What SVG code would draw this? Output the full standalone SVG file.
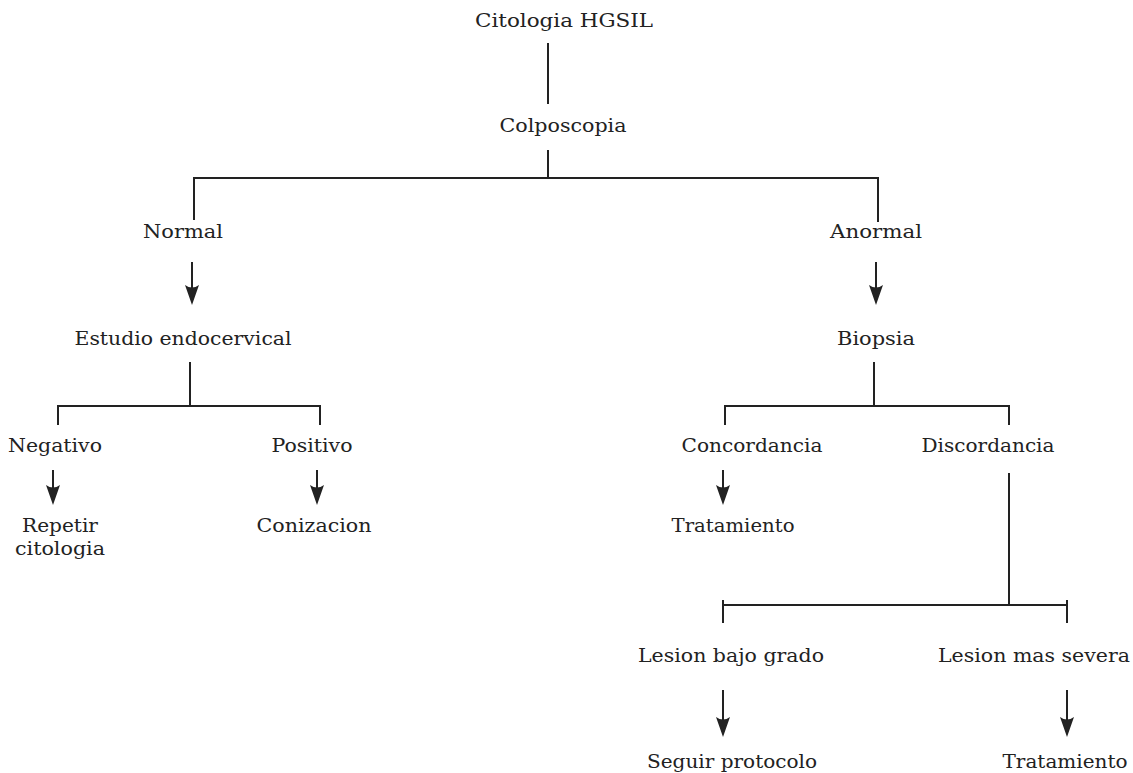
<svg xmlns="http://www.w3.org/2000/svg" width="1133" height="773" viewBox="0 0 1133 773">
<style>
  .t { font-family: "DejaVu Serif", "Liberation Serif", serif; font-size: 19px; fill: #222; text-anchor: middle; }
  .c line { stroke: #222; stroke-width: 2; fill: none; }
  .c .a { marker-end: url(#arr); }
</style>
<defs>
  <marker id="arr" viewBox="-10 -8 21 16" refX="0" refY="0" markerWidth="21" markerHeight="16" markerUnits="userSpaceOnUse" orient="auto">
    <path d="M10,0 L-10,-7 Q-5,0 -10,7 Z" fill="#222"/>
  </marker>
</defs>
<rect width="1133" height="773" fill="#fff"/>
<g class="c" id="connectors">
  <line x1="548" y1="43" x2="548" y2="104"/>
  <line x1="548" y1="150" x2="548" y2="178"/>
  <line x1="193" y1="178" x2="879" y2="178"/>
  <line x1="194" y1="178" x2="194" y2="220"/>
  <line x1="878" y1="178" x2="878" y2="222"/>
  <line class="a" x1="192" y1="262" x2="192" y2="295"/>
  <line class="a" x1="876" y1="262" x2="876" y2="295"/>
  <line x1="190" y1="362" x2="190" y2="406"/>
  <line x1="57" y1="406" x2="321" y2="406"/>
  <line x1="58" y1="406" x2="58" y2="425"/>
  <line x1="320" y1="406" x2="320" y2="425"/>
  <line x1="874" y1="362" x2="874" y2="406"/>
  <line x1="724" y1="406" x2="1010" y2="406"/>
  <line x1="725" y1="406" x2="725" y2="425"/>
  <line x1="1009" y1="406" x2="1009" y2="425"/>
  <line class="a" x1="53" y1="470" x2="53" y2="495"/>
  <line class="a" x1="317" y1="470" x2="317" y2="495"/>
  <line class="a" x1="723" y1="470" x2="723" y2="495"/>
  <line x1="1009" y1="473" x2="1009" y2="605"/>
  <line x1="723" y1="605" x2="1067" y2="605"/>
  <line x1="723" y1="600" x2="723" y2="623"/>
  <line x1="1067" y1="600" x2="1067" y2="623"/>
  <line class="a" x1="723" y1="690" x2="723" y2="727"/>
  <line class="a" x1="1067" y1="690" x2="1067" y2="727"/>
</g>
<g id="n-citologia"><text class="t" x="564" y="27" textLength="178" lengthAdjust="spacingAndGlyphs">Citologia HGSIL</text></g>
<g id="n-colposcopia"><text class="t" x="563" y="132" textLength="127" lengthAdjust="spacingAndGlyphs">Colposcopia</text></g>
<g id="n-normal"><text class="t" x="183" y="238" textLength="80" lengthAdjust="spacingAndGlyphs">Normal</text></g>
<g id="n-anormal"><text class="t" x="876" y="238" textLength="92" lengthAdjust="spacingAndGlyphs">Anormal</text></g>
<g id="n-estudio"><text class="t" x="183" y="345" textLength="217" lengthAdjust="spacingAndGlyphs">Estudio endocervical</text></g>
<g id="n-biopsia"><text class="t" x="876" y="345" textLength="78" lengthAdjust="spacingAndGlyphs">Biopsia</text></g>
<g id="n-negativo"><text class="t" x="55" y="452" textLength="94" lengthAdjust="spacingAndGlyphs">Negativo</text></g>
<g id="n-positivo"><text class="t" x="312" y="452" textLength="81" lengthAdjust="spacingAndGlyphs">Positivo</text></g>
<g id="n-concordancia"><text class="t" x="752" y="452" textLength="141" lengthAdjust="spacingAndGlyphs">Concordancia</text></g>
<g id="n-discordancia"><text class="t" x="988" y="452" textLength="133" lengthAdjust="spacingAndGlyphs">Discordancia</text></g>
<g id="n-repetir">
  <text class="t" x="60" y="532" textLength="76" lengthAdjust="spacingAndGlyphs">Repetir</text>
  <text class="t" x="60" y="555" textLength="90" lengthAdjust="spacingAndGlyphs">citologia</text>
</g>
<g id="n-conizacion"><text class="t" x="314" y="532" textLength="115" lengthAdjust="spacingAndGlyphs">Conizacion</text></g>
<g id="n-tratamiento1"><text class="t" x="733" y="532" textLength="123" lengthAdjust="spacingAndGlyphs">Tratamiento</text></g>
<g id="n-lesion-bajo"><text class="t" x="731" y="662" textLength="186" lengthAdjust="spacingAndGlyphs">Lesion bajo grado</text></g>
<g id="n-lesion-severa"><text class="t" x="1034" y="662" textLength="192" lengthAdjust="spacingAndGlyphs">Lesion mas severa</text></g>
<g id="n-seguir"><text class="t" x="732" y="768" textLength="170" lengthAdjust="spacingAndGlyphs">Seguir protocolo</text></g>
<g id="n-tratamiento2"><text class="t" x="1065" y="768" textLength="125" lengthAdjust="spacingAndGlyphs">Tratamiento</text></g>
</svg>
